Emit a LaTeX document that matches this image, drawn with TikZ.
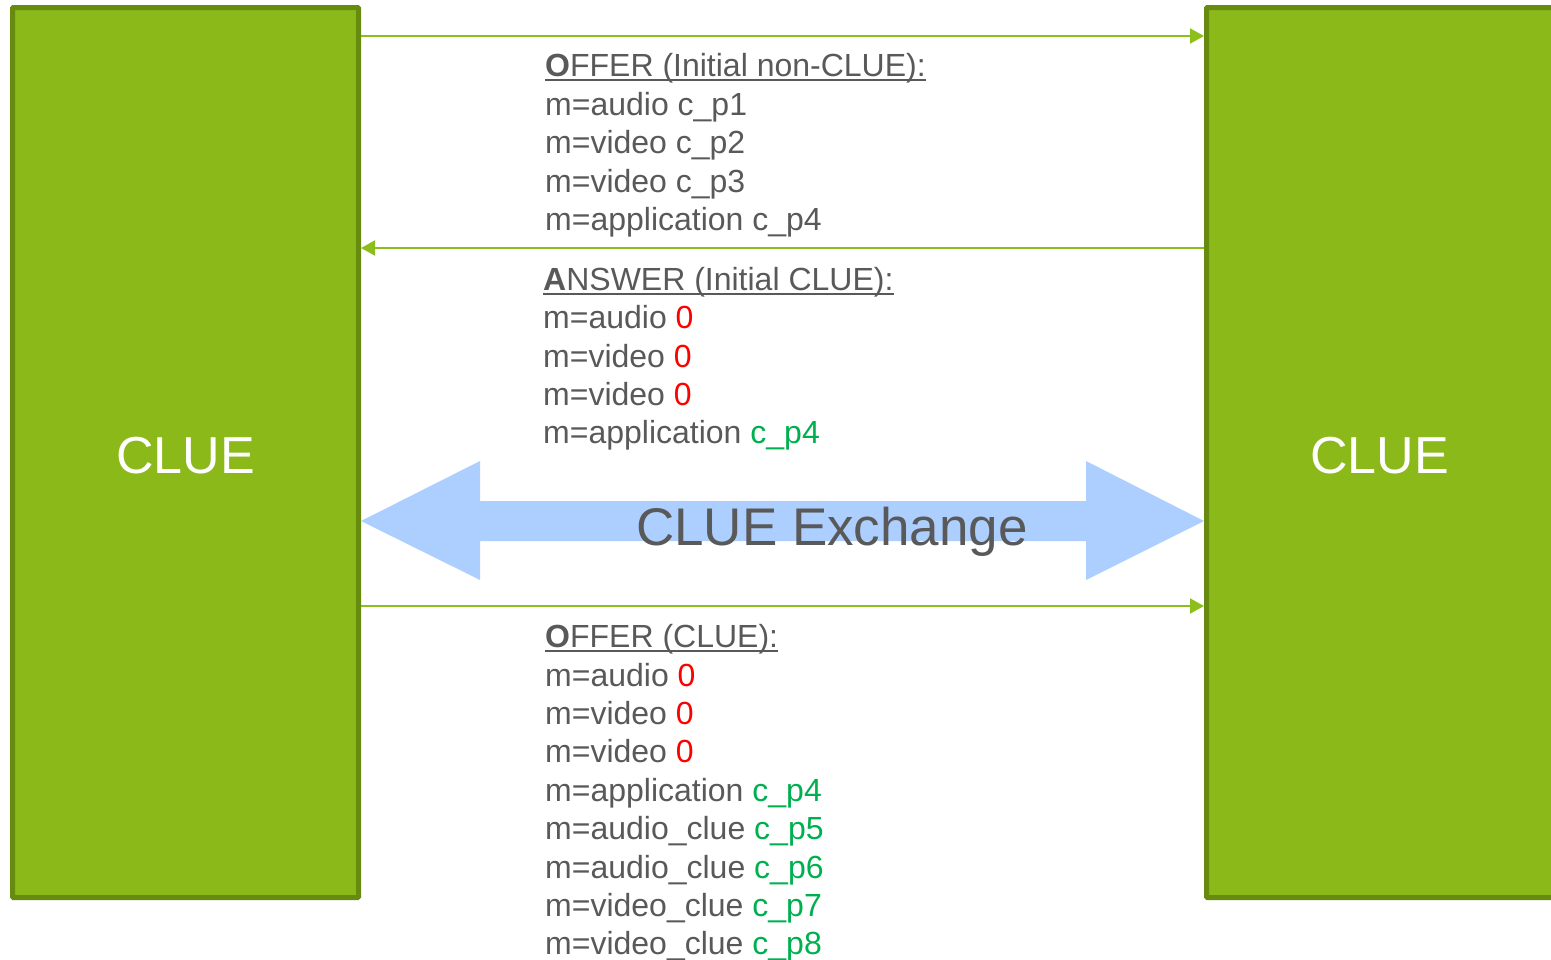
\documentclass[tikz,border=0pt]{standalone}
\usepackage{fontspec}
\setmainfont{Liberation Sans}
\usetikzlibrary{arrows.meta}
\definecolor{boxfill}{HTML}{8AB919}
\definecolor{boxline}{HTML}{668B0F}
\definecolor{msgline}{HTML}{8CBF1C}
\definecolor{txtgray}{HTML}{595959}
\definecolor{zero}{HTML}{FF0000}
\definecolor{port}{HTML}{00B050}
\definecolor{xchg}{HTML}{ADCFFF}
\tikzset{
  endpoint/.style={draw=boxline, fill=boxfill, line width=5pt, rounded corners=1pt,
    inner sep=0pt, anchor=north west},
  msg/.style={draw=msgline, line width=2pt, -{Triangle[length=14pt,width=15pt]}},
  sdp/.style={anchor=base west, inner sep=0pt, text=txtgray,
    font=\fontsize{32}{38}\selectfont},
  boxlabel/.style={anchor=base, inner sep=0pt, text=white,
    font=\fontsize{52}{60}\selectfont},
  uline/.style={draw=txtgray, line width=2pt},
}
\newcommand{\zr}{\textcolor{zero}{0}}
\newcommand{\pt}[1]{\textcolor{port}{c\_p#1}}
\begin{document}
\begin{tikzpicture}[x=1pt, y=-1pt]
\useasboundingbox (0,0) rectangle (1551,959);

% the two endpoints
\node (L) [endpoint, minimum width=346pt, minimum height=890pt] at (10,5) {};
\node (R) [endpoint, minimum width=360pt, minimum height=890pt] at (1204,5) {};
\node (Lt) [boxlabel] at (185.5,473) {CLUE};
\node (Rt) [boxlabel] at (1379.5,473) {CLUE};

% message rows
\coordinate (r1) at (0,36);
\coordinate (r2) at (0,248);
\coordinate (r3) at (0,606);
\draw[msg] (L.east |- r1) -- (R.west |- r1);
\draw[msg] (R.west |- r2) -- (L.east |- r2);
\draw[msg] (L.east |- r3) -- (R.west |- r3);

% CLUE exchange double arrow
\fill[xchg] (361,521) -- (480,461) -- (480,501) -- (1086,501) -- (1086,461)
  -- (1204,521) -- (1086,580) -- (1086,541) -- (480,541) -- (480,580) -- cycle;
\node (ex) [anchor=base, inner sep=0pt, text=txtgray, font=\fontsize{53}{60}\selectfont]
  at (832,545) {CLUE Exchange};

% initial offer
\node (a0) [sdp] at (545,76) {\textbf{O}FFER (Initial non-CLUE):};
\node (a1) [sdp] at (545,115) {m=audio c\_p1};
\node (a2) [sdp] at (545,153) {m=video c\_p2};
\node (a3) [sdp] at (545,192) {m=video c\_p3};
\node (a4) [sdp] at (545,230) {m=application c\_p4};
\draw[uline] ([yshift=-3.5pt]a0.base west) -- ([yshift=-3.5pt]a0.base east);

% answer
\node (b0) [sdp] at (543,290) {\textbf{A}NSWER (Initial CLUE):};
\node (b1) [sdp] at (543,328) {m=audio \zr};
\node (b2) [sdp] at (543,367) {m=video \zr};
\node (b3) [sdp] at (543,405) {m=video \zr};
\node (b4) [sdp] at (543,443) {m=application \pt{4}};
\draw[uline] ([yshift=-3.5pt]b0.base west) -- ([yshift=-3.5pt]b0.base east);

% CLUE offer
\node (c0) [sdp] at (545,647) {\textbf{O}FFER (CLUE):};
\node (c1) [sdp] at (545,686) {m=audio \zr};
\node (c2) [sdp] at (545,724) {m=video \zr};
\node (c3) [sdp] at (545,762) {m=video \zr};
\node (c4) [sdp] at (545,801) {m=application \pt{4}};
\node (c5) [sdp] at (545,839) {m=audio\_clue \pt{5}};
\node (c6) [sdp] at (545,878) {m=audio\_clue \pt{6}};
\node (c7) [sdp] at (545,916) {m=video\_clue \pt{7}};
\node (c8) [sdp] at (545,954) {m=video\_clue \pt{8}};
\draw[uline] ([yshift=-3.5pt]c0.base west) -- ([yshift=-3.5pt]c0.base east);
\end{tikzpicture}
\end{document}
